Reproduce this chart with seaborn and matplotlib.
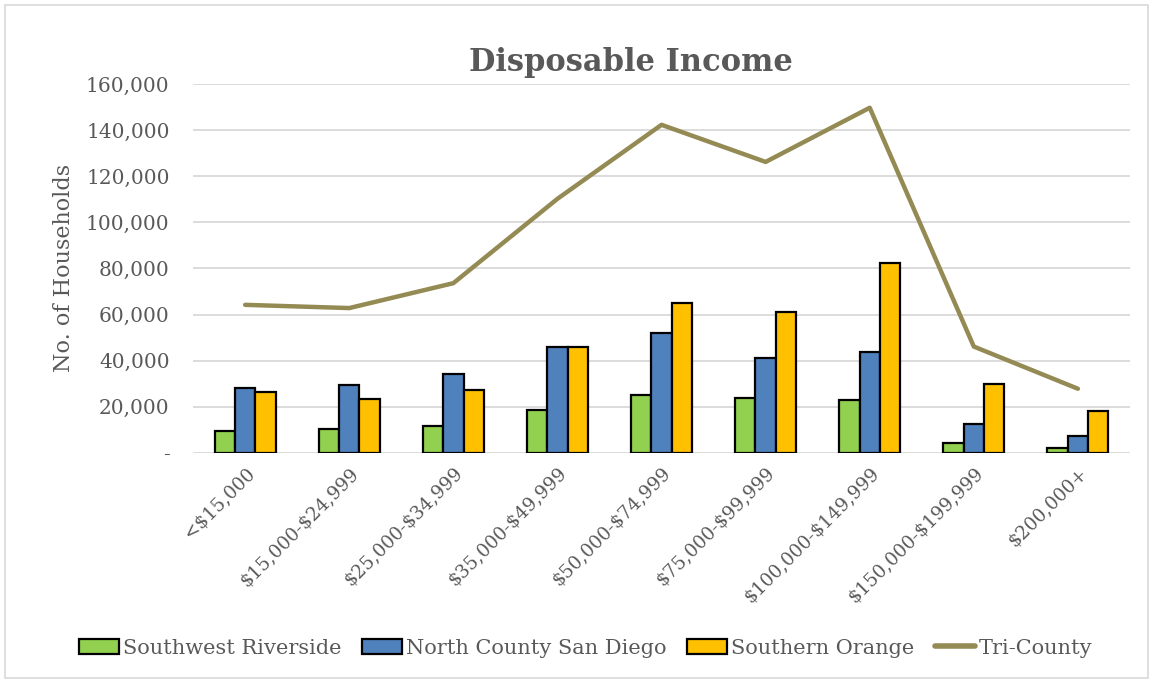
import numpy as np
import pandas as pd
import seaborn as sns
import matplotlib
matplotlib.use("Agg")
import matplotlib.pyplot as plt
from matplotlib.patches import Patch, Rectangle
from matplotlib.lines import Line2D
from matplotlib.ticker import FuncFormatter, MultipleLocator

# Household counts by disposable income bracket
categories = ["<$15,000", "$15,000-$24,999", "$25,000-$34,999", "$35,000-$49,999",
              "$50,000-$74,999", "$75,000-$99,999", "$100,000-$149,999",
              "$150,000-$199,999", "$200,000+"]
southwest_riverside = [9500, 10300, 11700, 18400, 25000, 23900, 23100, 4300, 2300]
north_county_sd = [28100, 29500, 34400, 45700, 52200, 41200, 43900, 12400, 7200]
southern_orange = [26600, 23300, 27300, 45800, 65200, 61000, 82400, 29800, 18200]
tri_county = [64200, 62800, 73600, 110200, 142300, 126200, 149700, 46100, 27800]

series_names = ["Southwest Riverside", "North County San Diego", "Southern Orange"]
line_name = "Tri-County"
colors = ["#92D050", "#4F81BD", "#FFC000"]
line_color = "#948A54"
text_color = "#595959"

sns.set_theme(style="white")
plt.rcParams["font.family"] = ["DejaVu Serif"]
plt.rcParams["text.parse_math"] = False

long = pd.DataFrame({
    "bracket": categories * 3,
    "households": southwest_riverside + north_county_sd + southern_orange,
    "region": sum([[n] * len(categories) for n in series_names], []),
})

fig = plt.figure(figsize=(11.53, 6.83), dpi=100)
ax = fig.add_axes([0.1675, 0.337, 0.8125, 0.540])

sns.barplot(data=long, x="bracket", y="households", hue="region",
            hue_order=series_names, palette=colors, saturation=1, width=0.585,
            edgecolor="black", linewidth=1.6, ax=ax, legend=False)
sns.lineplot(x=categories, y=tri_county, color=line_color, linewidth=3.2,
             ax=ax, legend=False, sort=False)

ax.set_xlim(-0.5, len(categories) - 0.5)
ax.set_ylim(0, 160000)
ax.yaxis.set_major_locator(MultipleLocator(20000))
ax.yaxis.set_major_formatter(FuncFormatter(lambda v, p: "-" if v == 0 else f"{int(v):,}"))
ax.grid(axis="y", color="#d9d9d9", linewidth=1.3)
ax.set_axisbelow(True)
for s in ax.spines.values():
    s.set_visible(False)
ax.tick_params(axis="y", length=0, colors=text_color, labelsize=14.5, pad=17)
ax.tick_params(axis="x", length=0, colors=text_color, labelsize=13.3, pad=8)
plt.setp(ax.get_xticklabels(), rotation=45, ha="right", va="top",
         rotation_mode="anchor")

ax.set_xlabel("")
ax.set_ylabel("No. of Households", color=text_color, fontsize=16, labelpad=8)
fig.text(0.547, 0.909, "Disposable Income", color=text_color, fontsize=22,
         fontweight="bold", ha="center", va="center")

handles = [Patch(facecolor=c, edgecolor="black", linewidth=1.6) for c in colors]
handles.append(Line2D([0], [0], color=line_color, linewidth=4))
fig.legend(handles, series_names + [line_name], loc="center",
           bbox_to_anchor=(0.508, 0.051), ncol=4, frameon=False,
           fontsize=15, labelcolor=text_color, handlelength=1.9,
           handleheight=0.7, handletextpad=0.2, columnspacing=1.0)

fig.add_artist(Rectangle((0.004, 0.007), 0.992, 0.986, transform=fig.transFigure,
                         fill=False, edgecolor="#d9d9d9", linewidth=1.2))

fig.savefig("out.png", dpi=100)
